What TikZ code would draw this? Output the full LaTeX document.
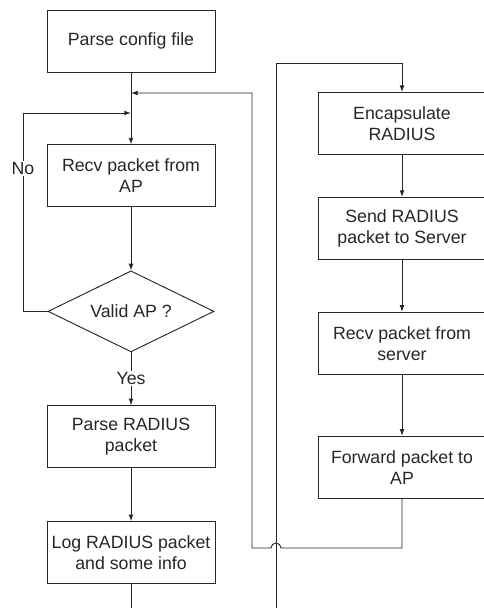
\documentclass[tikz,border=0pt]{standalone}
\usepackage{fontspec}
\setmainfont{Liberation Sans}
\usepackage{tikz}
\usetikzlibrary{arrows.meta, positioning, shapes.geometric, calc}
\definecolor{ink}{HTML}{262626}

\begin{document}
\begin{tikzpicture}[x=0.75pt, y=-0.75pt, >={Latex[length=5pt,width=3.6pt]}, line width=0.7pt, draw=ink, text=ink,
    procbox/.style={draw=ink, rectangle, minimum width=126pt, minimum height=46.5pt, inner sep=2pt, align=center, font=\fontsize{13.3}{15.8}\selectfont},
    decbox/.style={draw=ink, diamond, aspect=2, minimum width=124.5pt, minimum height=60.75pt, inner sep=0pt, font=\fontsize{13.3}{15.8}\selectfont},
    lbl/.style={fill=white, inner sep=1pt, font=\fontsize{13.3}{15.8}\selectfont}]
    \useasboundingbox (0,0) rectangle (483,608);

    % left column: receive and check the packet
    \node[procbox] (cfg) at (131,41) {Parse config file};
    \node[procbox] (recvap) [below=54pt of cfg] {Recv packet from\\AP};
    \node[decbox] (valid) [below=47.25pt of recvap] {Valid AP ?};
    \node[procbox] (parserad) [below=39.75pt of valid] {Parse RADIUS\\packet};
    \node[procbox] (log) [below=39.75pt of parserad] {Log RADIUS packet\\and some info};

    % right column: pass the packet on
    \node[procbox] (encap) at (402,123.5) {Encapsulate\\RADIUS};
    \node[procbox] (send) [below=31.5pt of encap] {Send RADIUS\\packet to Server};
    \node[procbox] (recvsrv) [below=39pt of send] {Recv packet from\\server};
    \node[procbox] (fwd) [below=45.75pt of recvsrv] {Forward packet to\\AP};

    % turning points of the long connectors
    \coordinate (noturn) at (23,113);
    \coordinate (backturn) at (252,93);
    \coordinate (backlow) at (252,548);
    \coordinate (cross) at (276,548);
    \coordinate (outbottom) at (276,608);
    \coordinate (outtop) at (276,63);
    \coordinate (logbottom) at (131,608);

    % main chain
    \draw[->] (cfg) -- (recvap);
    \draw[->] (recvap) -- (valid);
    \draw[->] (valid) -- node[lbl] {Yes} (parserad);
    \draw[->] (parserad) -- (log);
    \draw (log) -- (logbottom);
    \draw[->] (encap) -- (send);
    \draw[->] (send) -- (recvsrv);
    \draw[->] (recvsrv) -- (fwd);

    % "No" loop back above the receive box
    \draw[->] (valid.west) -| node[lbl, pos=0.86] {No} (noturn) -- (noturn -| cfg.south);

    % return from the right column, jumping over the outgoing line
    \draw[->] (fwd.south) |- ($(cross)+(5,0)$) arc[start angle=0, end angle=180, radius=3.75pt]
        -- (backlow) -- (backturn) -- (backturn -| cfg.south);

    % outgoing line into the right column
    \draw[->] (outbottom) -- (outtop) -| (encap.north);
\end{tikzpicture}
\end{document}
